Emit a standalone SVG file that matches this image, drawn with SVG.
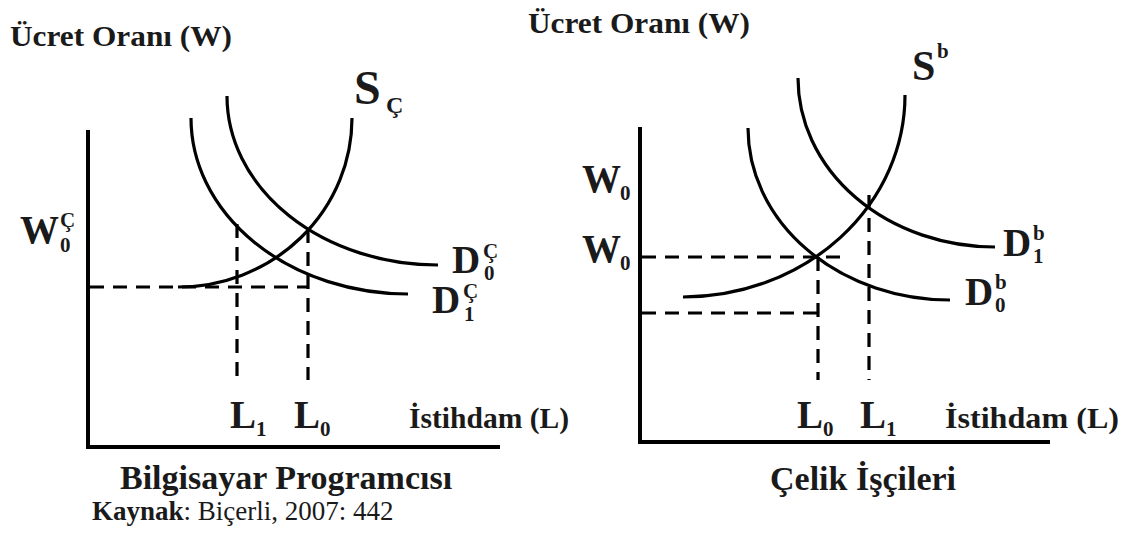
<svg xmlns="http://www.w3.org/2000/svg" width="1129" height="541" viewBox="0 0 1129 541">
<style>
.ax{stroke:#000;stroke-width:4;fill:none}
.cv{stroke:#000;stroke-width:3.2;fill:none}
.ds{stroke:#000;stroke-width:3.2;stroke-dasharray:14 9;fill:none}
text{font-family:"Liberation Serif","Times New Roman",serif;font-weight:bold;fill:#1a1a1a}
.big{font-size:39px}
.sm{font-size:21px}
.ttl{font-size:30px}
.reg{font-weight:normal}
</style>
<rect width="1129" height="541" fill="#fff"/>

<g id="left-chart">
  <g id="left-axes">
    <path class="ax" d="M88,130 V447 H500"/>
  </g>
  <g id="left-connectors">
    <path id="left-supply" class="cv" d="M178,287 A174,169 0 0 0 352,118"/>
    <path id="left-d0" class="cv" d="M227,96 A211,169 0 0 0 438,265"/>
    <path id="left-d1" class="cv" d="M191,118 A217,176 0 0 0 408,294"/>
    <path class="ds" d="M90,287 H308"/>
    <path class="ds" d="M237,224 V380"/>
    <path class="ds" d="M308,229 V380"/>
  </g>
  <g id="left-labels">
    <text x="10" y="46" class="ttl" textLength="222" lengthAdjust="spacingAndGlyphs">Ücret Oranı (W)</text>
    <g id="label-sc"><text x="354" y="104" font-size="48">S</text><text x="386" y="113" font-size="24">Ç</text></g>
    <g id="label-w0c"><text x="20" y="243" class="big">W</text><text x="60" y="227" class="sm">Ç</text><text x="60" y="252" class="sm">0</text></g>
    <g id="label-d0c"><text x="452" y="273" class="big">D</text><text x="483" y="258" class="sm">Ç</text><text x="484" y="280" class="sm">0</text></g>
    <g id="label-d1c"><text x="432" y="313" class="big">D</text><text x="463" y="298" class="sm">Ç</text><text x="464" y="321" class="sm">1</text></g>
    <g id="label-l1"><text x="230" y="428" class="big">L</text><text x="256" y="436" class="sm">1</text></g>
    <g id="label-l0"><text x="294" y="428" class="big">L</text><text x="320" y="436" class="sm">0</text></g>
    <text x="409" y="428" font-size="30" textLength="160" lengthAdjust="spacingAndGlyphs">İstihdam (L)</text>
    <text x="120" y="489" font-size="34">Bilgisayar Programcısı</text>
    <text x="92" y="520" font-size="27">Kaynak<tspan class="reg">: Biçerli, 2007: 442</tspan></text>
  </g>
</g>

<g id="right-chart">
  <g id="right-axes">
    <path class="ax" d="M640,127 V442 H1050"/>
  </g>
  <g id="right-connectors">
    <path id="right-supply" class="cv" d="M683,297 A222,202 0 0 0 905,95"/>
    <path id="right-d0" class="cv" d="M748,128 A202,172 0 0 0 950,300"/>
    <path id="right-d1" class="cv" d="M798,78 A197,169 0 0 0 995,247"/>
    <path class="ds" d="M642,257 H845"/>
    <path class="ds" d="M642,313 H818"/>
    <path class="ds" d="M818,257 V380"/>
    <path class="ds" d="M869,195 V380"/>
  </g>
  <g id="right-labels">
    <text x="528" y="33" class="ttl" textLength="222" lengthAdjust="spacingAndGlyphs">Ücret Oranı (W)</text>
    <g id="label-sb"><text x="912" y="80" font-size="42">S</text><text x="937" y="58" class="sm">b</text></g>
    <g id="label-w0-up"><text x="582" y="192" class="big">W</text><text x="620" y="200" class="sm">0</text></g>
    <g id="label-w0-lo"><text x="582" y="262" class="big">W</text><text x="620" y="270" class="sm">0</text></g>
    <g id="label-d1b"><text x="1003" y="256" class="big">D</text><text x="1033" y="240" class="sm">b</text><text x="1033" y="263" class="sm">1</text></g>
    <g id="label-d0b"><text x="965" y="305" class="big">D</text><text x="995" y="289" class="sm">b</text><text x="995" y="312" class="sm">0</text></g>
    <g id="label-l0r"><text x="797" y="428" class="big">L</text><text x="823" y="436" class="sm">0</text></g>
    <g id="label-l1r"><text x="860" y="428" class="big">L</text><text x="886" y="436" class="sm">1</text></g>
    <text x="945" y="428" font-size="30" textLength="174" lengthAdjust="spacingAndGlyphs">İstihdam (L)</text>
    <text x="770" y="490" font-size="34">Çelik İşçileri</text>
  </g>
</g>
</svg>
